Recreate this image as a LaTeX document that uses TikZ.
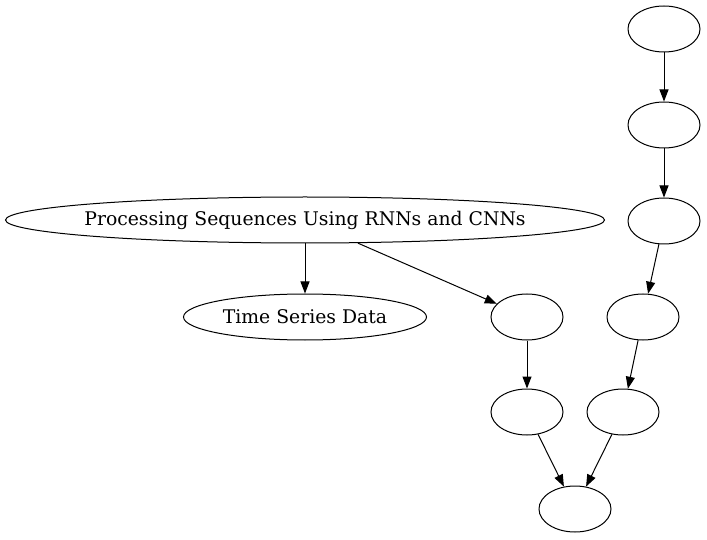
\documentclass[tikz,border=0pt]{standalone}
\usepackage{fontspec}
\setmainfont{DejaVu Serif}
\usetikzlibrary{shapes.geometric}
\usetikzlibrary{arrows.meta}
\newcommand{\lbl}[1]{\makebox[0pt]{#1}}
\tikzset{every node/.style={draw,ellipse,inner sep=0pt,line width=1pt,minimum height=46pt,font=\fontsize{18.8}{22}\selectfont},
 blank/.style={minimum width=72pt},
 edge/.style={draw,line width=1pt,-{Triangle[length=12pt,width=9pt]}},
 }

\begin{document}
\begin{tikzpicture}[x=1pt,y=1pt]
        \useasboundingbox (0,0) rectangle (707,539);
        \node[minimum width=599pt] (proc) at (305,319) {\lbl{Processing Sequences Using RNNs and CNNs}};
        \node[minimum width=243pt] (ts) at (305,222) {\lbl{Time Series Data}};
        \node[blank] (a1) at (527,222) {};
        \node[blank] (a2) at (527,127) {};
        \node[blank] (b1) at (664,510) {};
        \node[blank] (b2) at (664,414) {};
        \node[blank] (b3) at (664,318) {};
        \node[blank] (b4) at (643,222) {};
        \node[blank] (b5) at (623,127) {};
        \node[blank] (end) at (575,30) {};
        \draw[edge] (proc) -- (ts);
        \draw[edge] (proc) -- (a1);
        \draw[edge] (a1) -- (a2);
        \draw[edge] (a2) -- (end);
        \draw[edge] (b1) -- (b2);
        \draw[edge] (b2) -- (b3);
        \draw[edge] (b3) -- (b4);
        \draw[edge] (b4) -- (b5);
        \draw[edge] (b5) -- (end);
    \end{tikzpicture}
\end{document}
